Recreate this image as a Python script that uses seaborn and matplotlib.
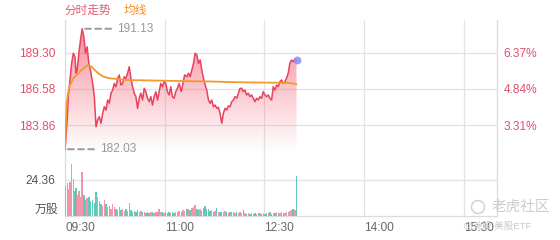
import numpy as np
import pandas as pd
import matplotlib
matplotlib.use("Agg")
import matplotlib.pyplot as plt
import seaborn as sns
from matplotlib.patches import Ellipse

sns.set_style("white")
plt.rcParams['font.family'] = ['Liberation Sans', 'Noto Sans CJK SC', 'DejaVu Sans']

# ---------------- data ----------------
minutes = [0, 2, 3, 4.5, 6, 7.5, 9, 10, 11, 12.5, 14, 15.5, 17, 18.5, 20, 21.5, 23, 25, 26.5, 28,
           29.5, 31, 32.5, 34, 35.5, 37, 38.5, 40, 41.5, 43, 44.5, 46, 47.5, 49, 50.5, 52, 53.5, 55,
           56.5, 58, 59.5, 61, 62.5, 64, 65.5, 67, 68.5, 70, 71.5, 73, 74.5, 76, 77.5, 79, 80.5, 82,
           83.5, 85, 86.5, 88, 89.5, 91, 92.5, 94, 95.5, 97, 98.5, 100, 101.5, 103,
           105, 106.5, 108, 110, 111.5, 113, 114.5, 116, 117.5, 119, 120.5, 122, 123.5, 125, 126.5,
           128, 129.5, 131, 132.5, 134, 135.5, 137, 138.5, 140, 141.5, 143, 144.5, 146, 147.5, 149,
           150.5, 152, 153.5, 155, 156.5, 158, 159.5, 161, 162.5, 164, 165.5, 167, 168.5, 170, 171.5,
           173, 174.5, 176, 177.5, 179, 180.5, 182, 183.5, 185, 186.5, 188, 189.5, 191, 192.5, 194,
           195.5, 197, 198.5, 200, 201.5, 203, 204.5, 206, 207.5, 209]
prices = [182.03, 184.24, 186.00, 187.26, 188.52, 189.28, 189.02, 187.77, 188.00, 189.28, 190.28,
          191.13, 190.53, 189.28, 189.77, 188.52, 188.00, 187.00, 186.00, 183.73, 184.24, 184.49,
          183.99, 184.74, 185.24, 184.99, 185.75, 185.50, 186.26, 186.50, 187.00, 186.75, 187.39,
          187.64, 186.88, 187.00, 187.51, 187.39, 187.77, 188.26, 187.39, 186.75, 186.26, 186.00,
          185.12, 185.88, 186.26, 185.75, 186.63, 186.38, 185.88, 185.62, 186.00, 185.37, 186.00,
          186.38, 185.75, 186.38, 187.00, 186.75, 187.13, 187.00, 186.38, 186.13, 186.75, 186.00,
          185.88, 186.38, 186.63, 187.00,
          186.38, 187.00, 187.64, 187.51, 187.77, 187.51, 188.00, 188.52, 189.28, 189.15, 188.52,
          188.77, 188.00, 187.39, 186.88, 186.50, 185.75, 185.50, 185.75, 185.24, 185.37, 185.12,
          185.20, 184.74, 183.99, 184.74, 185.12, 184.99, 185.30, 185.24, 185.62, 185.75, 186.00,
          185.88, 186.26, 186.63, 186.63, 186.38, 186.50, 186.13, 186.26, 186.00, 186.13, 185.88,
          185.62, 185.88, 185.75, 186.00, 185.88, 186.38, 186.13, 186.00, 186.13, 185.88, 185.75,
          186.75, 186.50, 186.88, 186.75, 187.13, 187.26, 187.00, 187.13, 187.39, 187.77, 188.52,
          188.77, 188.64, 188.82, 188.77]
volumes = [20, 22, 18, 23, 35, 25, 17, 19, 14, 17, 13, 30, 14, 11, 12, 13, 10, 11, 9, 16,
           13, 10, 8, 7, 11, 8, 6, 7, 5, 8, 6, 5, 4, 6, 4, 4.5, 3.5, 4.5, 3.5, 8.8,
           4, 3, 3.6, 3, 4.3, 3, 3.5, 2.5, 3, 2, 2.5, 2, 3, 2.5, 2, 3, 2.5, 5, 3, 2.5,
           2, 2.5, 2, 3, 2, 2.5, 2, 3, 2.5, 3.5,
           3, 4, 3.5, 4.5, 5, 4, 5.5, 6, 7.7, 5, 4, 5, 3.5, 5.5, 7, 4.5, 5, 3.5, 4, 3,
           3.5, 5.4, 3, 2.5, 3, 2.5, 3.5, 2.5, 2, 3, 2.5, 3, 2, 2.5, 2, 2.5, 2, 3.8, 2, 1.5,
           2, 1.5, 2, 1.5, 2, 1.5, 2, 1.8, 1.5, 2, 1.5, 2, 1.8, 2.5, 1.5, 2, 1.8, 2.5, 2, 2,
           2.5, 2, 2.2, 2.5, 3, 3.5, 4, 5, 4, 27]
avg_minutes = [0, 1.5, 3, 4.5, 7.5, 10.5, 13.5, 16.5, 21, 24, 27, 30, 34.5, 40.5, 55.5, 85.5,
               103.5, 130, 150, 180, 200, 206, 209]
avg_prices = [182.03, 185.50, 186.38, 186.88, 187.39, 187.64, 187.89, 188.14, 188.39, 188.26,
              188.00, 187.77, 187.51, 187.39, 187.26, 187.21, 187.18, 187.15, 187.10, 187.06,
              187.05, 187.00, 186.93]

price_ticks = [183.86, 186.58, 189.30]
price_labels = ["183.86", "186.58", "189.30"]
pct_labels = ["3.31%", "4.84%", "6.37%"]
vol_tick = 24.36
vol_tick_label = "24.36"
time_ticks = [0, 90, 180, 270, 360]
time_labels = ["09:30", "11:00", "12:30", "14:00", "15:30"]
max_label = "191.13"
min_label = "182.03"

# ---------------- styling ----------------
RED = '#e8435d'
TICK_RED = '#e0506a'
ORANGE = '#f39a2b'
GRID = '#e3e3e3'
GRAY = '#666666'

fig = plt.figure(figsize=(5.6, 2.4), dpi=100)
ax = fig.add_axes([65/560, 80/240, 432/560, 140/240])
axv = fig.add_axes([65/560, 24/240, 432/560, 56/240])

PLO, PHI = 181.217, 191.791
ax.set_xlim(0, 390)
ax.set_ylim(PLO, PHI)
axv.set_xlim(0, 390)
axv.set_ylim(0, 37.89)

# gradient fill under price line
poly = ax.fill_between(minutes, prices, PLO, color='none', lw=0)
n = 256
t = np.linspace(0, 1, n)[:, None]
rgba = np.zeros((n, 1, 4))
rgba[..., 0] = 240/255
rgba[..., 1] = 70/255
rgba[..., 2] = 95/255
rgba[..., 3] = 0.62 * t ** 1.1
im = ax.imshow(rgba, extent=[0, 390, PLO + 0.4, max(prices)], aspect='auto',
               origin='lower', zorder=1, interpolation='bilinear')
path = poly.get_paths()[0]
im.set_clip_path(path, transform=ax.transData)

df = pd.DataFrame({'m': minutes, 'p': prices})
sns.lineplot(data=df, x='m', y='p', ax=ax, color=RED, lw=1.1, zorder=3)
dfa = pd.DataFrame({'m': avg_minutes, 'p': avg_prices})
sns.lineplot(data=dfa, x='m', y='p', ax=ax, color=ORANGE, lw=1.3, zorder=4)
ax.scatter([minutes[-1]], [prices[-1]], s=32, color='#8a8df0', alpha=0.85, zorder=5, lw=0)

# max / min annotations
imax = int(np.argmax(prices))
imin = int(np.argmin(prices))
for i, lab in [(imax, max_label), (imin, min_label)]:
    ax.annotate('', xy=(minutes[i], prices[i]), xytext=(29, 0), textcoords='offset pixels',
                arrowprops=dict(arrowstyle='-', ls=(0, (3, 2.2)), color='#9a9a9a', lw=1.4,
                                shrinkA=0, shrinkB=0), zorder=6)
    ax.annotate(lab, xy=(minutes[i], prices[i]), xytext=(35, 0), textcoords='offset pixels',
                ha='left', va='center', color='#999999', fontsize=8.6, zorder=6)

# axes styling (price)
ax.set_xlabel('')
ax.set_ylabel('')
ax.set_yticks(price_ticks)
ax.set_yticklabels(price_labels, color=TICK_RED, fontsize=8.6)
ax.set_xticks(time_ticks)
ax.tick_params(axis='x', labelbottom=False, length=0)
ax.tick_params(axis='y', length=0, pad=7)
ax.grid(True, color=GRID, lw=0.9)
ax.set_axisbelow(True)
for s in ['top', 'bottom']:
    ax.spines[s].set_visible(False)
for s in ['left', 'right']:
    ax.spines[s].set_color('#dcdcdc')
    ax.spines[s].set_linewidth(0.9)

ax2 = ax.twinx()
ax2.set_ylim(PLO, PHI)
ax2.set_yticks(price_ticks)
ax2.set_yticklabels(pct_labels, color=TICK_RED, fontsize=8.6)
ax2.tick_params(axis='y', length=0, pad=4.5)
for s in ax2.spines.values():
    s.set_visible(False)

# volume bars
up = [True] + [prices[i] >= prices[i - 1] for i in range(1, len(prices))]
colors = ['#f08aa0' if u else '#4fc3b3' for u in up]
axv.bar(minutes, volumes, width=1.25, color=colors, alpha=0.9, lw=0, zorder=3)
axv.set_yticks([vol_tick])
axv.set_yticklabels([vol_tick_label], color='#555555', fontsize=8.6)
axv.tick_params(axis='y', length=0, pad=7)
axv.set_xticks(time_ticks)
axv.set_xticklabels(time_labels, color=GRAY, fontsize=8.6, ha='left')
axv.tick_params(axis='x', length=0, pad=4)
axv.grid(True, color=GRID, lw=0.9)
axv.set_axisbelow(True)
axv.spines['top'].set_visible(False)
for s in ['left', 'right', 'bottom']:
    axv.spines[s].set_color('#dcdcdc')
    axv.spines[s].set_linewidth(0.9)
axv.text(-0.016, 0.107, '万股', transform=axv.transAxes, ha='right', va='center',
         color='#555555', fontsize=8.6)

# header
fig.text(64/560, 1 - 11/240, '分时走势', color='#e05a72', fontsize=8.4, va='center', ha='left')
fig.text(124/560, 1 - 11/240, '均线', color='#f0902a', fontsize=8.4, va='center', ha='left')

# watermark
fig.patches.append(Ellipse((478/560, 1 - 207/240), 13/560, 13/240, transform=fig.transFigure,
                           fill=False, ec='#cfcfcf', lw=1.0))
fig.text(492/560, 1 - 207/240, '老虎社区', color='#cccccc', fontsize=10.5, va='center', ha='left')
fig.text(463/560, 1 - 226/240, '@美股 美股ETF', color='#c8c8c8', fontsize=6.8, va='center', ha='left')

fig.savefig('out.png', dpi=100)
